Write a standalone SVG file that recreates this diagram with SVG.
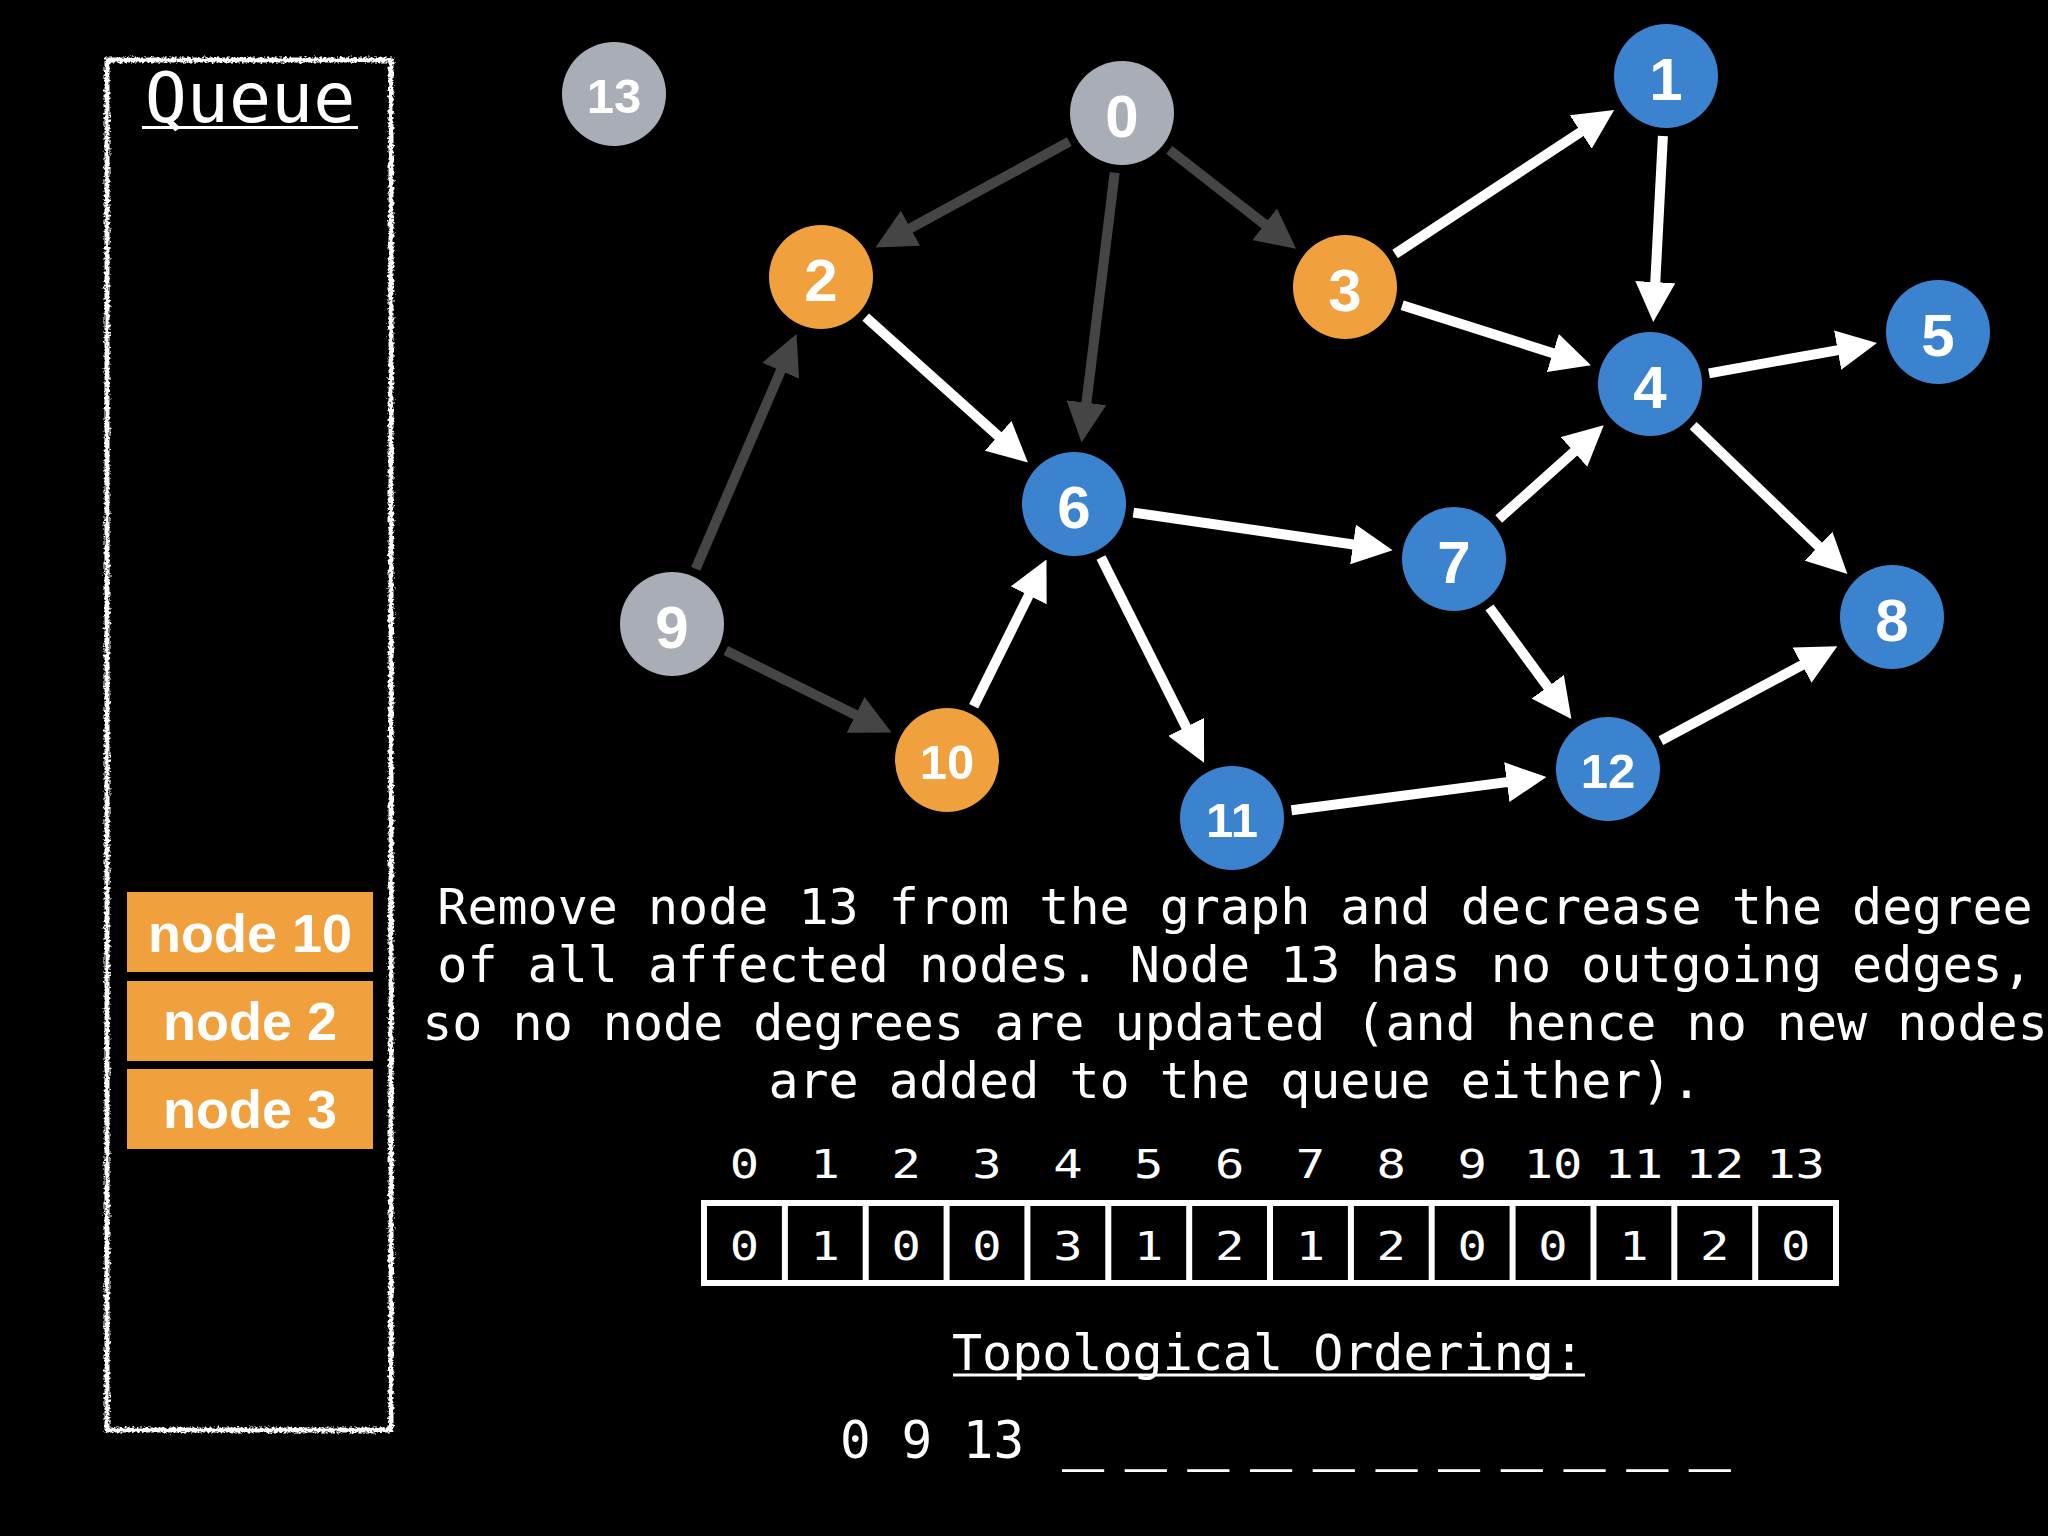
<svg xmlns="http://www.w3.org/2000/svg" width="2048" height="1536" viewBox="0 0 2048 1536">
<style>
.mono{font-family:"DejaVu Sans Mono","Liberation Mono",monospace;fill:#fff}
.lbl{font-family:"Liberation Sans",Arial,sans-serif;font-weight:bold;fill:#fff;text-anchor:middle}
.one{font-size:60px}
.two{font-size:49px}
.gray{fill:#a8adb6}
.orange{fill:#f0a03c}
.blue{fill:#3b83cf}
.ew{stroke:#fff;stroke-width:10;fill:none;marker-end:url(#aw)}
.ed{stroke:#454545;stroke-width:10;fill:none;marker-end:url(#ad)}
.qi{fill:#f0a03c}
.qt{font-family:"Liberation Sans",Arial,sans-serif;font-weight:bold;font-size:54px;fill:#fff;text-anchor:middle}
.cell{font-size:39px;text-anchor:middle}
</style>
<defs>
<marker id="aw" viewBox="0 -20 40 40" refX="2" refY="0" markerWidth="40" markerHeight="40" markerUnits="userSpaceOnUse" orient="auto"><path d="M0,-20 L40,0 L0,20 z" fill="#fff"/></marker>
<marker id="ad" viewBox="0 -20 40 40" refX="2" refY="0" markerWidth="40" markerHeight="40" markerUnits="userSpaceOnUse" orient="auto"><path d="M0,-20 L40,0 L0,20 z" fill="#454545"/></marker>
<filter id="rough" x="-10%" y="-5%" width="120%" height="110%"><feTurbulence type="fractalNoise" baseFrequency="0.4" numOctaves="2" seed="4" result="n"/><feDisplacementMap in="SourceGraphic" in2="n" scale="6" xChannelSelector="R" yChannelSelector="G"/></filter>
</defs>
<rect width="2048" height="1536" fill="#000"/>

<g id="queue">
<rect x="107" y="60" width="284" height="1370" fill="none" stroke="#fff" stroke-width="5" filter="url(#rough)"/>
<text class="mono" x="250" y="122" font-size="70" text-anchor="middle">Queue</text>
<line x1="142" y1="127.5" x2="358" y2="127.5" stroke="#fff" stroke-width="3"/>
</g>
<g id="queue-item-10"><rect class="qi" x="127" y="892" width="246" height="80"/><text class="qt" x="250" y="952">node 10</text></g>
<g id="queue-item-2"><rect class="qi" x="127" y="981" width="246" height="80"/><text class="qt" x="250" y="1040">node 2</text></g>
<g id="queue-item-3"><rect class="qi" x="127" y="1069" width="246" height="80"/><text class="qt" x="250" y="1128">node 3</text></g>

<g id="connectors">
<line class="ed" x1="1069.3" y1="141.7" x2="908.8" y2="229.2"/>
<line class="ed" x1="1114.7" y1="172.6" x2="1086.2" y2="404.7"/>
<line class="ed" x1="1169.3" y1="149.9" x2="1266.2" y2="225.5"/>
<line class="ed" x1="695.7" y1="568.9" x2="781.5" y2="368.9"/>
<line class="ed" x1="725.8" y1="650.6" x2="857.4" y2="715.7"/>
<line class="ew" x1="865.7" y1="317.1" x2="999.6" y2="437.2"/>
<line class="ew" x1="1395.1" y1="254" x2="1582.4" y2="130.9"/>
<line class="ew" x1="1402.2" y1="305.2" x2="1554.7" y2="353.7"/>
<line class="ew" x1="1662.9" y1="135.9" x2="1655.2" y2="284.1"/>
<line class="ew" x1="1709" y1="373.3" x2="1839.6" y2="349.8"/>
<line class="ew" x1="1693.2" y1="425.6" x2="1820" y2="547.6"/>
<line class="ew" x1="1133.4" y1="512.6" x2="1355" y2="544.7"/>
<line class="ew" x1="1101" y1="557.6" x2="1187" y2="728.7"/>
<line class="ew" x1="1498.7" y1="519" x2="1575.4" y2="450.6"/>
<line class="ew" x1="1489.5" y1="607.4" x2="1548.9" y2="688.4"/>
<line class="ew" x1="973.7" y1="706.3" x2="1029.6" y2="593.6"/>
<line class="ew" x1="1291.5" y1="810.2" x2="1508.8" y2="781.9"/>
<line class="ew" x1="1660.9" y1="740.7" x2="1803.8" y2="664.2"/>
</g>

<g id="node-13"><circle class="gray" cx="614" cy="94" r="52"/><text class="lbl two" x="614" y="113">13</text></g>
<g id="node-0"><circle class="gray" cx="1122" cy="113" r="52"/><text class="lbl one" x="1122" y="137">0</text></g>
<g id="node-1"><circle class="blue" cx="1666" cy="76" r="52"/><text class="lbl one" x="1666" y="100">1</text></g>
<g id="node-2"><circle class="orange" cx="821" cy="277" r="52"/><text class="lbl one" x="821" y="301">2</text></g>
<g id="node-3"><circle class="orange" cx="1345" cy="287" r="52"/><text class="lbl one" x="1345" y="311">3</text></g>
<g id="node-4"><circle class="blue" cx="1650" cy="384" r="52"/><text class="lbl one" x="1650" y="408">4</text></g>
<g id="node-5"><circle class="blue" cx="1938" cy="332" r="52"/><text class="lbl one" x="1938" y="356">5</text></g>
<g id="node-6"><circle class="blue" cx="1074" cy="504" r="52"/><text class="lbl one" x="1074" y="528">6</text></g>
<g id="node-7"><circle class="blue" cx="1454" cy="559" r="52"/><text class="lbl one" x="1454" y="583">7</text></g>
<g id="node-8"><circle class="blue" cx="1892" cy="617" r="52"/><text class="lbl one" x="1892" y="641">8</text></g>
<g id="node-9"><circle class="gray" cx="672" cy="624" r="52"/><text class="lbl one" x="672" y="648">9</text></g>
<g id="node-10"><circle class="orange" cx="947" cy="760" r="52"/><text class="lbl two" x="947" y="779">10</text></g>
<g id="node-11"><circle class="blue" cx="1232" cy="818" r="52"/><text class="lbl two" x="1232" y="837">11</text></g>
<g id="node-12"><circle class="blue" cx="1608" cy="769" r="52"/><text class="lbl two" x="1608" y="788">12</text></g>

<g id="description" class="mono" font-size="50" text-anchor="middle">
<text x="1235" y="924">Remove node 13 from the graph and decrease the degree</text>
<text x="1235" y="982">of all affected nodes. Node 13 has no outgoing edges,</text>
<text x="1235" y="1040">so no node degrees are updated (and hence no new nodes</text>
<text x="1235" y="1098">are added to the queue either).</text>
</g>

<g id="degree-table">
<rect x="704" y="1203" width="1132" height="80" fill="none" stroke="#fff" stroke-width="6"/>
<g stroke="#fff" stroke-width="6">
<line x1="784.9" y1="1203" x2="784.9" y2="1283"/>
<line x1="865.7" y1="1203" x2="865.7" y2="1283"/>
<line x1="946.6" y1="1203" x2="946.6" y2="1283"/>
<line x1="1027.4" y1="1203" x2="1027.4" y2="1283"/>
<line x1="1108.3" y1="1203" x2="1108.3" y2="1283"/>
<line x1="1189.2" y1="1203" x2="1189.2" y2="1283"/>
<line x1="1270" y1="1203" x2="1270" y2="1283"/>
<line x1="1350.9" y1="1203" x2="1350.9" y2="1283"/>
<line x1="1431.7" y1="1203" x2="1431.7" y2="1283"/>
<line x1="1512.6" y1="1203" x2="1512.6" y2="1283"/>
<line x1="1593.5" y1="1203" x2="1593.5" y2="1283"/>
<line x1="1674.3" y1="1203" x2="1674.3" y2="1283"/>
<line x1="1755.2" y1="1203" x2="1755.2" y2="1283"/>
</g>
<g class="mono cell" transform="matrix(1.25 0 0 1 0 0)">
<text x="595.5" y="1178">0</text><text x="660.2" y="1178">1</text><text x="724.9" y="1178">2</text><text x="789.6" y="1178">3</text><text x="854.3" y="1178">4</text><text x="919" y="1178">5</text><text x="983.7" y="1178">6</text><text x="1048.4" y="1178">7</text><text x="1113" y="1178">8</text><text x="1177.7" y="1178">9</text><text x="1242.4" y="1178">10</text><text x="1307.1" y="1178">11</text><text x="1371.8" y="1178">12</text><text x="1436.5" y="1178">13</text>
<text x="595.5" y="1260">0</text><text x="660.2" y="1260">1</text><text x="724.9" y="1260">0</text><text x="789.6" y="1260">0</text><text x="854.3" y="1260">3</text><text x="919" y="1260">1</text><text x="983.7" y="1260">2</text><text x="1048.4" y="1260">1</text><text x="1113" y="1260">2</text><text x="1177.7" y="1260">0</text><text x="1242.4" y="1260">0</text><text x="1307.1" y="1260">1</text><text x="1371.8" y="1260">2</text><text x="1436.5" y="1260">0</text>
</g>
</g>

<g id="ordering">
<text class="mono" x="1268" y="1370" font-size="50" text-anchor="middle">Topological Ordering:</text>
<line x1="953" y1="1375" x2="1585" y2="1375" stroke="#fff" stroke-width="3"/>
<text class="mono" x="840" y="1458" font-size="51">0 9 13</text>
<text class="mono" x="1062" y="1456" font-size="70" letter-spacing="-10.8">_ _ _ _ _ _ _ _ _ _ _</text>
</g>
</svg>
